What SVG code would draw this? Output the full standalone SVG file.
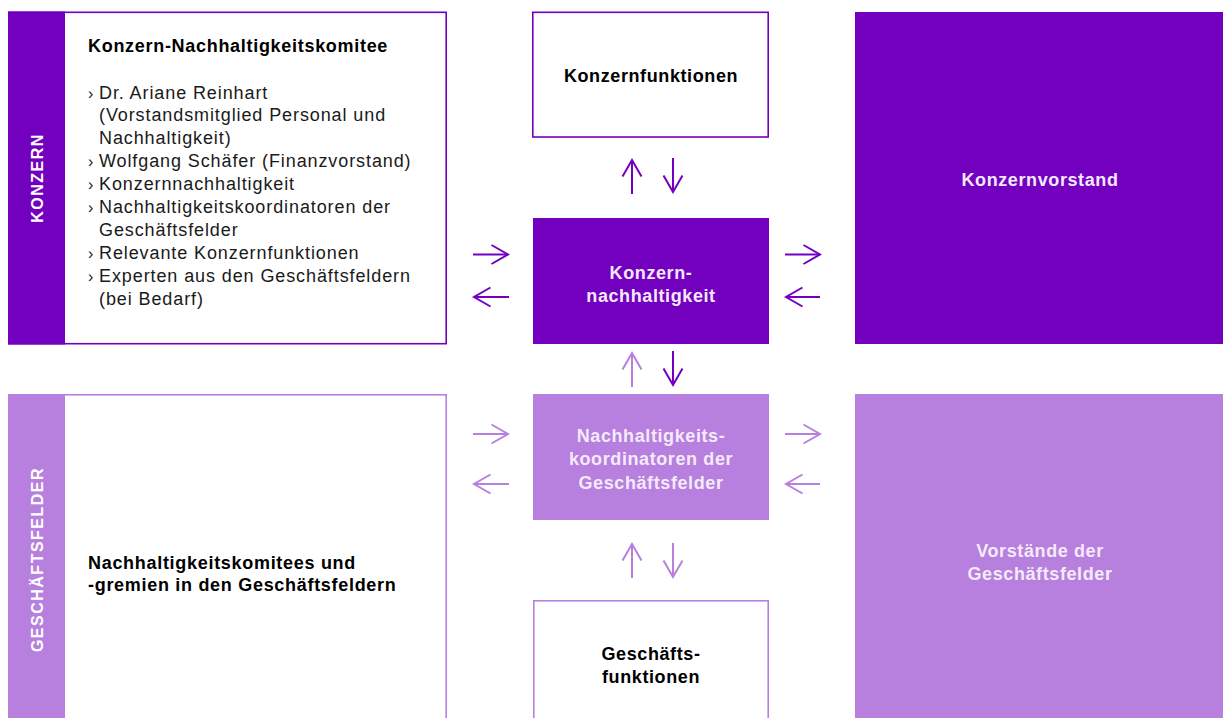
<svg xmlns="http://www.w3.org/2000/svg" width="1223" height="718" viewBox="0 0 1223 718">
<style>
  text{font-family:"Liberation Sans",Arial,sans-serif;}
  .dk{fill:#7300be;}
  .lt{fill:#b780de;}
  .bdk{fill:#ffffff;stroke:#7300be;stroke-width:1.6;}
  .blt{fill:#ffffff;stroke:#b780de;stroke-width:1.6;}
  .h{font-size:18px;font-weight:bold;fill:#000;letter-spacing:0.7px;}
  .hw{font-size:18px;font-weight:bold;fill:#f4eafb;letter-spacing:0.6px;text-anchor:middle;}
  .hb{font-size:18px;font-weight:bold;fill:#000;letter-spacing:0.6px;text-anchor:middle;}
  .li{font-size:18px;fill:#1a1a1a;letter-spacing:0.9px;}
  .bul{font-size:16px;fill:#1a1a1a;}
  .side{font-size:16px;font-weight:bold;fill:#ffffff;letter-spacing:1.5px;text-anchor:middle;}
  .adk{fill:none;stroke:#7300be;stroke-width:2;}
  .alt{fill:none;stroke:#b780de;stroke-width:2;}
</style>
<defs>
  <marker id="mdk" viewBox="-18 -11 20 22" markerWidth="20" markerHeight="22" refX="0" refY="0" orient="auto" markerUnits="userSpaceOnUse">
    <path d="M-16.5,-9.5 L0,0 L-16.5,9.5" fill="none" stroke="#7300be" stroke-width="2"/>
  </marker>
  <marker id="mlt" viewBox="-18 -11 20 22" markerWidth="20" markerHeight="22" refX="0" refY="0" orient="auto" markerUnits="userSpaceOnUse">
    <path d="M-16.5,-9.5 L0,0 L-16.5,9.5" fill="none" stroke="#b780de" stroke-width="2"/>
  </marker>
</defs>
<rect width="1223" height="718" fill="#ffffff"/>

<g id="konzern-komitee">
  <rect class="bdk" x="8.8" y="12.3" width="437.4" height="331.4"/>
  <rect class="dk" x="8" y="11.5" width="57" height="333"/>
  <text class="side" transform="translate(43,178) rotate(-90)">KONZERN</text>
  <text class="h" x="88" y="51.5">Konzern-Nachhaltigkeitskomitee</text>
  <text class="bul" x="88" y="98.5">›</text><text class="li" x="99" y="98.5">Dr. Ariane Reinhart</text>
  <text class="li" x="99" y="121.4">(Vorstandsmitglied Personal und</text>
  <text class="li" x="99" y="144.3">Nachhaltigkeit)</text>
  <text class="bul" x="88" y="167.2">›</text><text class="li" x="99" y="167.2">Wolfgang Schäfer (Finanzvorstand)</text>
  <text class="bul" x="88" y="190.1">›</text><text class="li" x="99" y="190.1">Konzernnachhaltigkeit</text>
  <text class="bul" x="88" y="213">›</text><text class="li" x="99" y="213">Nachhaltigkeitskoordinatoren der</text>
  <text class="li" x="99" y="235.9">Geschäftsfelder</text>
  <text class="bul" x="88" y="258.8">›</text><text class="li" x="99" y="258.8">Relevante Konzernfunktionen</text>
  <text class="bul" x="88" y="281.7">›</text><text class="li" x="99" y="281.7">Experten aus den Geschäftsfeldern</text>
  <text class="li" x="99" y="304.6">(bei Bedarf)</text>
</g>

<g id="konzernfunktionen">
  <rect class="bdk" x="532.8" y="12.3" width="235.4" height="124.7"/>
  <text class="hb" x="651" y="81.5">Konzernfunktionen</text>
</g>

<g id="konzernvorstand">
  <rect class="dk" x="855" y="12" width="368" height="332"/>
  <text class="hw" x="1040" y="186">Konzernvorstand</text>
</g>

<g id="konzernnachhaltigkeit">
  <rect class="dk" x="533" y="218" width="236" height="126"/>
  <text class="hw" x="651" y="278.5">Konzern-</text>
  <text class="hw" x="651" y="301.5">nachhaltigkeit</text>
</g>

<g id="geschaeftsfelder-komitees">
  <rect class="blt" x="8.8" y="394.8" width="437.4" height="330"/>
  <rect class="lt" x="8" y="394" width="57" height="324"/>
  <text class="side" transform="translate(43,559.5) rotate(-90)">GESCHÄFTSFELDER</text>
  <text class="h" x="88" y="568.5">Nachhaltigkeitskomitees und</text>
  <text class="h" x="88" y="591">-gremien in den Geschäftsfeldern</text>
</g>

<g id="koordinatoren">
  <rect class="lt" x="533" y="394" width="236" height="126"/>
  <text class="hw" x="651" y="441.5">Nachhaltigkeits-</text>
  <text class="hw" x="651" y="465">koordinatoren der</text>
  <text class="hw" x="651" y="488.5">Geschäftsfelder</text>
</g>

<g id="geschaeftsfunktionen">
  <rect class="blt" x="533.8" y="600.8" width="234.4" height="130"/>
  <text class="hb" x="651" y="659.5">Geschäfts-</text>
  <text class="hb" x="651" y="682.5">funktionen</text>
</g>

<g id="vorstaende">
  <rect class="lt" x="855" y="394" width="368" height="324"/>
  <text class="hw" x="1040" y="556.5">Vorstände der</text>
  <text class="hw" x="1040" y="579.5">Geschäftsfelder</text>
</g>

<g id="connectors">
  <!-- top pair -->
  <path class="adk" d="M632,194 V160" marker-end="url(#mdk)"/>
  <path class="adk" d="M673,158 V192" marker-end="url(#mdk)"/>
  <!-- left of Konzernnachhaltigkeit -->
  <path class="adk" d="M473,254.5 H508" marker-end="url(#mdk)"/>
  <path class="adk" d="M509,297 H474" marker-end="url(#mdk)"/>
  <!-- right of Konzernnachhaltigkeit -->
  <path class="adk" d="M785,254.5 H820" marker-end="url(#mdk)"/>
  <path class="adk" d="M820,297 H786" marker-end="url(#mdk)"/>
  <!-- middle pair -->
  <path class="alt" d="M632,387 V353" marker-end="url(#mlt)"/>
  <path class="adk" d="M673,351 V385" marker-end="url(#mdk)"/>
  <!-- left of Koordinatoren -->
  <path class="alt" d="M473,434 H508" marker-end="url(#mlt)"/>
  <path class="alt" d="M509,484 H474" marker-end="url(#mlt)"/>
  <!-- right of Koordinatoren -->
  <path class="alt" d="M785,434 H820" marker-end="url(#mlt)"/>
  <path class="alt" d="M820,484 H786" marker-end="url(#mlt)"/>
  <!-- bottom pair -->
  <path class="alt" d="M632,578 V544" marker-end="url(#mlt)"/>
  <path class="alt" d="M673,543 V577" marker-end="url(#mlt)"/>
</g>
</svg>
